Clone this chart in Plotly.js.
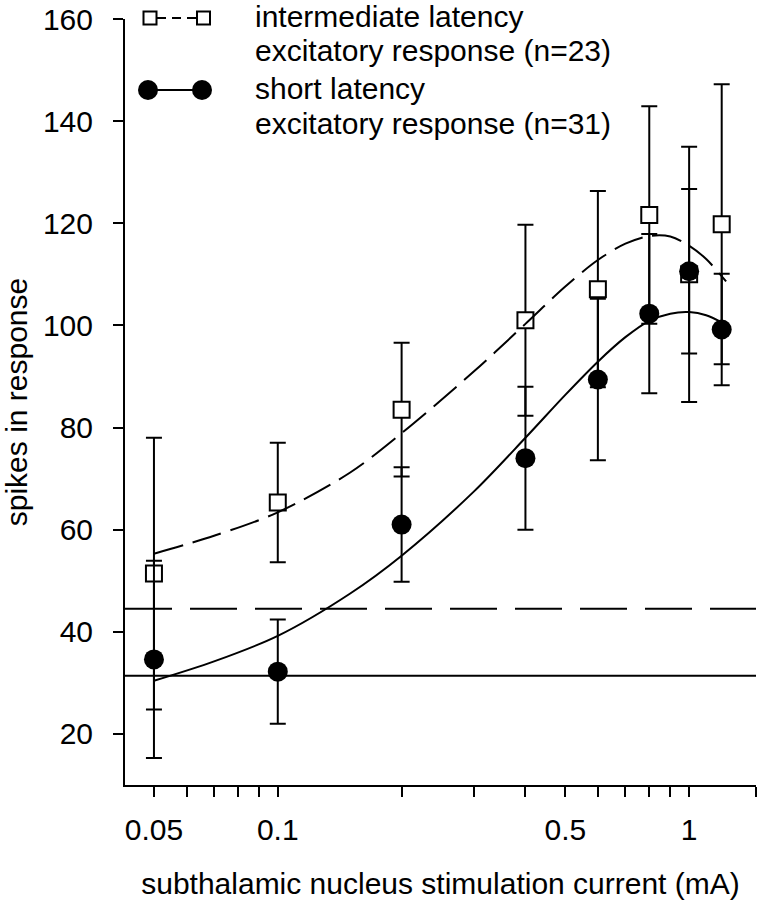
<!DOCTYPE html>
<html>
<head>
<meta charset="utf-8">
<script src="https://cdn.plot.ly/plotly-3.0.1.min.js"></script>
<style>
html,body{margin:0;padding:0;background:#fff;}
#chart{width:763px;height:900px;}
</style>
</head>
<body>
<div id="chart"></div>
<script>
// ---- data ----
const currents = [0.05, 0.1, 0.2, 0.4, 0.6, 0.8, 1.0, 1.2];
const intermediateMean = [51.4, 65.3, 83.5, 101.0, 107.1, 121.6, 110.0, 119.8];
const intermediateErr  = [26.6, 11.7, 13.1, 18.7, 19.2, 21.3, 25.0, 27.4];
const shortMean = [34.6, 32.2, 61.0, 74.0, 89.4, 102.3, 110.6, 99.2];
const shortErr  = [19.3, 10.2, 11.2, 14.0, 15.8, 15.6, 16.1, 10.9];

const intermediateFitX = [0.05, 0.07, 0.1, 0.15, 0.2, 0.3, 0.4, 0.5, 0.6, 0.7, 0.8, 0.9, 1.0, 1.1, 1.23];
const intermediateFitY = [55.3, 58.8, 63.4, 71.2, 78.9, 91.0, 100.3, 107.6, 112.8, 116.0, 117.5, 117.4, 115.6, 113.0, 108.6];
const shortFitX = [0.05, 0.07, 0.1, 0.15, 0.2, 0.3, 0.4, 0.5, 0.6, 0.7, 0.8, 0.9, 1.0, 1.1, 1.2];
const shortFitY = [30.4, 34.2, 39.2, 47.5, 54.9, 67.5, 78.0, 86.4, 92.9, 97.7, 100.9, 102.3, 102.6, 102.0, 100.6];

const intermediateBaseline = 44.5;
const shortBaseline = 31.4;

const legendLines = ["intermediate latency", "excitatory response (n=23)", "short latency", "excitatory response (n=31)"];
const xTickVals = [0.05, 0.06, 0.07, 0.08, 0.09, 0.1, 0.2, 0.3, 0.4, 0.5, 0.6, 0.7, 0.8, 0.9, 1.0, 1.454];
const xTickText = ["0.05", "", "", "", "", "0.1", "", "", "", "0.5", "", "", "", "", "1", ""];
const yTickVals = [20, 40, 60, 80, 100, 120, 140, 160];

// ---- layout geometry ----
const W = 763, H = 900;
const M = {l: 125, r: 7, t: 19, b: 115};
const PW = W - M.l - M.r, PH = H - M.t - M.b;
const px = p => (p - M.l) / PW;          // pixel x -> paper
const py = p => (H - M.b - p) / PH;      // pixel y -> paper
const FONT = "Liberation Sans, Arial, Helvetica, sans-serif";

const errStyle = (arr) => ({type: 'data', array: arr, visible: true, color: '#000', thickness: 2, width: 8});

const traces = [
  {
    x: currents, y: intermediateMean, type: 'scatter', mode: 'markers',
    marker: {symbol: 'square', size: 16, color: '#fff', line: {color: '#000', width: 2}},
    error_y: errStyle(intermediateErr), showlegend: false, cliponaxis: false
  },
  {
    x: currents, y: shortMean, type: 'scatter', mode: 'markers',
    marker: {symbol: 'circle', size: 20, color: '#000', line: {width: 0}},
    error_y: errStyle(shortErr), showlegend: false, cliponaxis: false
  },
  {
    x: intermediateFitX, y: intermediateFitY, type: 'scatter', mode: 'lines',
    line: {color: '#000', width: 2, dash: '30px,10px', shape: 'spline', smoothing: 0.9},
    showlegend: false
  },
  {
    x: shortFitX, y: shortFitY, type: 'scatter', mode: 'lines',
    line: {color: '#000', width: 2, shape: 'spline', smoothing: 0.9},
    showlegend: false
  }
];

const shapes = [
  {type: 'line', xref: 'paper', yref: 'y', x0: 0, x1: 1, y0: intermediateBaseline, y1: intermediateBaseline,
   line: {color: '#000', width: 2, dash: '47px,18px'}},
  {type: 'line', xref: 'paper', yref: 'y', x0: 0, x1: 1, y0: shortBaseline, y1: shortBaseline,
   line: {color: '#000', width: 2}},
  // legend samples
  {type: 'line', xref: 'paper', yref: 'paper', x0: px(157), x1: px(197), y0: py(18), y1: py(18),
   line: {color: '#000', width: 2, dash: '9px,6px'}},
  {type: 'rect', xref: 'paper', yref: 'paper', x0: px(143.5), x1: px(156.5), y0: py(24.5), y1: py(11.5),
   line: {color: '#000', width: 2}, fillcolor: '#fff'},
  {type: 'rect', xref: 'paper', yref: 'paper', x0: px(197), x1: px(210), y0: py(24.5), y1: py(11.5),
   line: {color: '#000', width: 2}, fillcolor: '#fff'},
  {type: 'line', xref: 'paper', yref: 'paper', x0: px(150), x1: px(200), y0: py(90), y1: py(90),
   line: {color: '#000', width: 2}},
  {type: 'circle', xref: 'paper', yref: 'paper', x0: px(138), x1: px(158), y0: py(100), y1: py(80),
   line: {color: '#000', width: 0}, fillcolor: '#000'},
  {type: 'circle', xref: 'paper', yref: 'paper', x0: px(192), x1: px(212), y0: py(100), y1: py(80),
   line: {color: '#000', width: 0}, fillcolor: '#000'}
];

const legendY = [16.5, 51, 88.5, 123.5];
const annotations = legendLines.map((t, i) => ({
  text: t, xref: 'paper', yref: 'paper', x: px(253), y: py(legendY[i]),
  xanchor: 'left', yanchor: 'middle', showarrow: false,
  font: {family: FONT, size: 30, color: '#000'}
}));

const layout = {
  width: W, height: H,
  margin: M,
  paper_bgcolor: '#fff', plot_bgcolor: '#fff',
  font: {family: FONT, size: 30, color: '#000'},
  showlegend: false,
  xaxis: {
    type: 'log', range: [Math.log10(0.04252), Math.log10(1.454)],
    showgrid: false, zeroline: false,
    showline: true, linecolor: '#000', linewidth: 2,
    ticks: 'outside', ticklen: 10, tickwidth: 2, tickcolor: '#000',
    tickmode: 'array', tickvals: xTickVals, ticktext: xTickText,
    tickfont: {family: FONT, size: 30, color: '#000'},
    ticklabelstandoff: 7,
    automargin: false,
    title: {text: 'subthalamic nucleus stimulation current (mA)', font: {family: FONT, size: 30, color: '#000'}, standoff: 29}
  },
  yaxis: {
    range: [10, 160],
    showgrid: false, zeroline: false,
    showline: true, linecolor: '#000', linewidth: 2,
    ticks: 'outside', ticklen: 10, tickwidth: 2, tickcolor: '#000',
    tickmode: 'array', tickvals: yTickVals,
    tickfont: {family: FONT, size: 30, color: '#000'},
    ticklabelstandoff: 14,
    automargin: false,
    title: {text: 'spikes in response', font: {family: FONT, size: 30, color: '#000'}, standoff: 18}
  },
  shapes: shapes,
  annotations: annotations
};

Plotly.newPlot('chart', traces, layout, {displayModeBar: false, staticPlot: true});
</script>
</body>
</html>
